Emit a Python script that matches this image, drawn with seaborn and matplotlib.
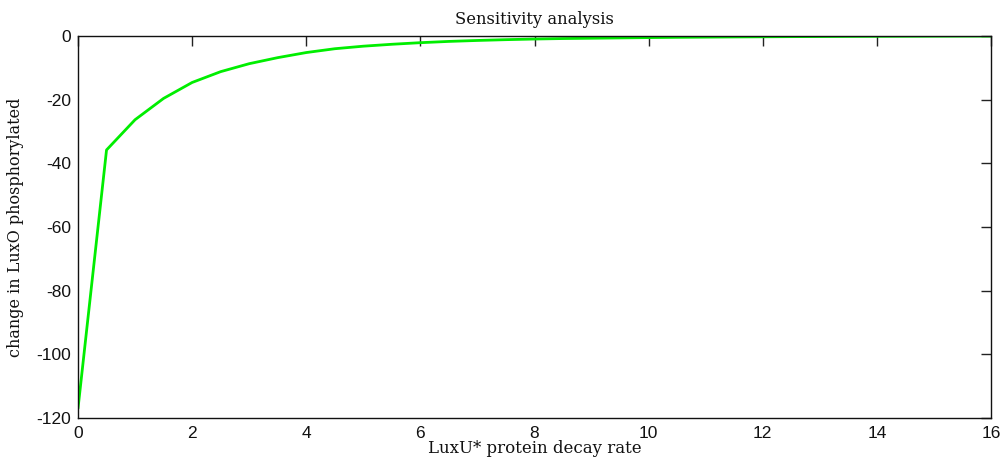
import matplotlib
matplotlib.use("Agg")
import matplotlib.pyplot as plt
import seaborn as sns
import pandas as pd

# Decay rate of phosphorylated LuxU and the resulting change in LuxO~P
decay_rate = [0.0, 0.5, 1.0, 1.5, 2.0, 2.5, 3.0, 3.5, 4.0, 4.5, 5.0, 5.5,
              6.0, 6.5, 7.0, 7.5, 8.0, 8.5, 9.0, 9.5, 10.0, 10.5, 11.0,
              11.5, 12.0, 12.5, 13.0, 13.5, 14.0, 14.5, 15.0, 15.5, 16.0]
luxo_change = [-117.0, -35.8, -26.3, -19.6, -14.6, -11.2, -8.7, -6.8, -5.2,
               -4.0, -3.2, -2.6, -2.1, -1.7, -1.4, -1.15, -0.95, -0.8, -0.7,
               -0.6, -0.5, -0.42, -0.36, -0.3, -0.25, -0.2, -0.17, -0.13,
               -0.1, -0.08, -0.06, -0.04, -0.03]

x_ticks = [0, 2, 4, 6, 8, 10, 12, 14, 16]
y_ticks = [0, -20, -40, -60, -80, -100, -120]

df = pd.DataFrame({"rate": decay_rate, "change": luxo_change})

sns.set_style("white")
plt.rcParams["font.family"] = ["Liberation Sans", "DejaVu Sans"]

fig = plt.figure(figsize=(10.02, 4.70), dpi=100)
ax = fig.add_axes([78 / 1002, 52 / 470, 913 / 1002, 382 / 470])

sns.lineplot(data=df, x="rate", y="change", ax=ax, color="#00ee00",
             linewidth=2.0, zorder=1)

ax.set_xlim(0, 16)
ax.set_ylim(-120, 0)
ax.set_xticks(x_ticks)
ax.set_yticks(y_ticks)
ax.set_xticklabels([str(t) for t in x_ticks])
ax.set_yticklabels([str(t) for t in y_ticks])

ax.tick_params(direction="in", length=7, width=1, colors="#222222",
               labelcolor="#111111", labelsize=12.5, top=True, right=True)
ax.tick_params(axis="x", pad=6)
ax.tick_params(axis="y", pad=5)
for side in ax.spines.values():
    side.set_color("#111111")
    side.set_linewidth(1.0)
    side.set_zorder(3)

serif = ["DejaVu Serif", "Liberation Serif"]
ax.set_title("Sensitivity analysis", fontsize=11.8, family=serif,
             color="#111111", pad=9)
ax.set_xlabel("LuxU* protein decay rate", fontsize=12, family=serif,
              color="#111111", labelpad=-1)
ax.set_ylabel("change in LuxO phosphorylated", fontsize=11.5, family=serif,
              color="#111111", labelpad=9)

fig.savefig("out.png", dpi=100, facecolor="white")
